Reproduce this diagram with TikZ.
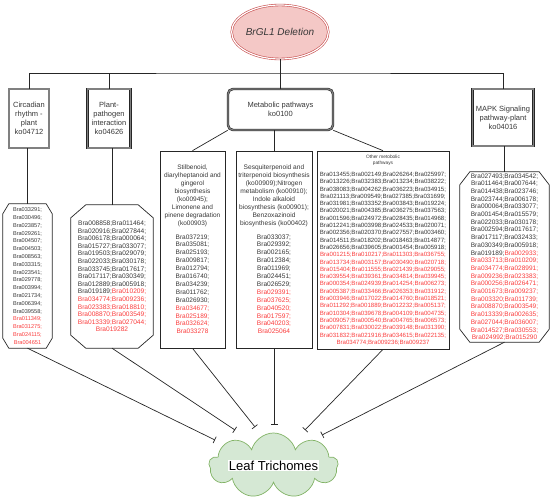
\documentclass[tikz,border=0pt]{standalone}
\usepackage{fontspec}
\setmainfont{Liberation Sans}
\usepackage{xcolor}
\usepackage{tikz}
\usetikzlibrary{calc, arrows.meta, shapes.geometric, shapes.symbols}

\definecolor{genered}{RGB}{250,60,60}
\definecolor{genegray}{RGB}{55,55,55}
\definecolor{delfill}{RGB}{244,200,198}
\definecolor{deldraw}{RGB}{200,80,80}
\definecolor{leaffill}{RGB}{213,232,212}
\definecolor{leafdraw}{RGB}{130,179,102}

\newcommand{\rd}[1]{\textcolor{genered}{#1}}
\newcommand{\fs}[2]{\fontsize{#1}{#2}\selectfont}
\setlength{\fboxsep}{0.8pt}

%% octagon round a node: name, corner width, corner height
\newcommand{\chamfer}[3]{%
  \draw [link] ($(#1.north west)+(#2,0)$) -- ($(#1.north east)+(-#2,0)$) -- ($(#1.north east)+(0,#3)$) -- ($(#1.south east)+(0,-#3)$) -- ($(#1.south east)+(-#2,0)$) -- ($(#1.south west)+(#2,0)$) -- ($(#1.south west)+(0,-#3)$) -- ($(#1.north west)+(0,#3)$) -- cycle;}

\tikzset{
  delnode/.style={ellipse, draw=deldraw, line width=0.6pt, double=white, double distance=1.2pt, fill=delfill, inner sep=0pt, text=genegray, font=\fs{10}{12}\itshape},
  pathbox/.style={rectangle, draw=black!85, line width=0.6pt, double=black!50, double distance=1.2pt, inner sep=0pt, align=center, text=genegray, font=\fs{7.5}{9}},
  genelist/.style={rectangle, inner sep=0pt, align=center, text=genegray},
  subbox/.style={rectangle, draw=black!85, line width=0.7pt, inner sep=0pt, align=center, text=genegray},
  link/.style={draw=black!85, line width=0.7pt},
  inhibit/.style={link, -{Bar[width=7pt]}}
}

\begin{document}
\begin{tikzpicture}[x=1pt, y=-1pt]

        \useasboundingbox (0,0) rectangle (550,503);

        %% Deletion
        \node (brgl) [delnode, minimum width=84, minimum height=54] at (280,32) {BrGL1 Deletion};

        %% Pathways
        \node (circ) [pathbox, minimum width=40, minimum height=59] at (29,118.5) {Circadian\\rhythm -\\plant\\ko04712};
        \node (plant) [pathbox, minimum width=43, minimum height=59] at (109,118.5) {Plant-\\pathogen\\interaction\\ko04626};
        \node (metab) [pathbox, rounded corners=5pt, minimum width=105, minimum height=41] at (280.5,109.5) {Metabolic pathways\\ko0100};
        \node (mapk) [pathbox, minimum width=61, minimum height=57] at (503,117.5) {MAPK Signaling\\pathway-plant\\ko04016};

        %% Gene lists
        \node (circlist) [genelist, minimum width=49, minimum height=144, font=\fs{5.6}{7.8}] at (27.5,276) {Bra033291;\\Bra030496;\\Bra023857;\\Bra029261;\\Bra004507;\\Bra004503;\\Bra008563;\\Bra033315;\\Bra023541;\\Bra029778;\\Bra003994;\\Bra021734;\\Bra006394;\\Bra039558;\\\rd{Bra011349;}\\\rd{Bra031275;}\\\rd{Bra024115;}\\\rd{Bra004651}};
        \chamfer{circlist}{6}{10}

        \node (plantlist) [genelist, minimum width=82, minimum height=143, font=\fs{6.6}{7.6}] at (112,276.5) {Bra008858;Bra011464;\\Bra020916;Bra027844;\\Bra006178;Bra000064;\\Bra015727;Bra033077;\\Bra019503;Bra029079;\\Bra022033;Bra030178;\\Bra033745;Bra017617;\\Bra017117;Bra030349;\\Bra012889;Bra005918;\\Bra019189;\rd{Bra010209;}\\\rd{Bra034774;Bra009236;}\\\rd{Bra023383;Bra018810;}\\\rd{Bra008870;Bra003549;}\\\rd{Bra013339;Bra027044;}\\\rd{Bra019282}};
        \chamfer{plantlist}{15}{13}

        \node (stilb) [subbox, minimum width=65, minimum height=197, font=\fs{6.5}{7.9}] at (192.5,249.5) {Stilbenoid,\\diarylheptanoid and\\gingerol\\biosynthesis\\(ko00945);\\Limonene and\\pinene degradation\\(ko00903)\\[6pt]Bra037219;\\Bra035081;\\Bra025193;\\Bra009817;\\Bra012794;\\Bra016740;\\Bra034239;\\Bra011762;\\Bra026930;\\\rd{Bra034677;}\\\rd{Bra025189;}\\\rd{Bra032624;}\\\rd{Bra033278}};

        \node (sesq) [subbox, minimum width=76, minimum height=197, font=\fs{6.6}{7.9}] at (274,249.5) {Sesquiterpenoid and\\triterpenoid biosynthesis\\(ko00909);Nitrogen\\metabolism (ko00910);\\Indole alkaloid\\biosynthesis (ko00901);\\Benzoxazinoid\\biosynthesis (ko00402)\\[6pt]Bra033037;\\Bra029392;\\Bra002165;\\Bra012384;\\Bra011969;\\Bra024451;\\Bra026529;\\\rd{Bra029391;}\\\rd{Bra037625;}\\\rd{Bra040520;}\\\rd{Bra017597;}\\\rd{Bra040203;}\\\rd{Bra025064}};

        \node (other) [subbox, minimum width=132, minimum height=198, font=\fs{6.1}{7.3}] at (383,250) {{\fs{4.8}{6}Other metobolic}\\[-1pt]{\fs{4.8}{6}pathways}\\[4.5pt]Bra013455;Bra002149;Bra026264;Bra025997;\\Bra013226;Bra032383;Bra013234;Bra038222;\\Bra038083;Bra004262;Bra036223;Bra034915;\\Bra021113;Bra009549;Bra027385;Bra031699;\\Bra031981;Bra033352;Bra003843;Bra019224;\\Bra020021;Bra004385;Bra036275;Bra037563;\\Bra001596;Bra024972;Bra028435;Bra014968;\\Bra012241;Bra003998;Bra024533;Bra020071;\\Bra002356;Bra020370;Bra027557;Bra003460;\\Bra014511;Bra018202;Bra018463;Bra014877;\\Bra026656;Bra039605;Bra001454;Bra005918;\\\rd{Bra001215;Bra010217;Bra011303;Bra036755;}\\\rd{Bra013734;Bra003157;Bra030490;Bra020718;}\\\rd{Bra015404;Bra011555;Bra021439;Bra029055;}\\\rd{Bra039554;Bra039361;Bra034814;Bra039945;}\\\rd{Bra000354;Bra024939;Bra014254;Bra006273;}\\\rd{Bra005387;Bra033466;Bra026353;Bra031912;}\\\rd{Bra003946;Bra017022;Bra014760;Bra018521;}\\\rd{Bra011292;Bra001889;Bra012232;Bra005137;}\\\rd{Bra010304;Bra039678;Bra004109;Bra004735;}\\\rd{Bra009057;Bra000540;Bra004765;Bra006573;}\\\rd{Bra007831;Bra030022;Bra039148;Bra031390;}\\\rd{Bra031832;Bra021916;Bra034615;Bra022135;}\\\rd{Bra034774;Bra009236;Bra009237}};

        \node (mapklist) [genelist, minimum width=89, minimum height=170, font=\fs{6.5}{7.7}] at (504.5,257) {Bra027493;Bra034542;\\Bra011464;Bra007644;\\Bra014438;Bra023746;\\Bra023744;Bra006178;\\Bra000064;Bra033077;\\Bra001454;Bra015579;\\Bra022033;Bra030178;\\Bra002594;Bra017617;\\Bra017117;Bra032433;\\Bra030349;Bra005918;\\Bra019189;\rd{Bra002933;}\\\rd{Bra033713;Bra010209;}\\\rd{Bra034774;Bra028991;}\\\rd{Bra009236;Bra023383;}\\\rd{Bra000256;Bra026471;}\\\rd{Bra001673;Bra009237;}\\\rd{Bra003320;Bra011739;}\\\rd{Bra008870;Bra003549;}\\\rd{Bra013339;Bra002635;}\\\rd{Bra027044;Bra036007;}\\\rd{Bra014527;Bra030553;}\\\rd{Bra024992;Bra015290}};
        \chamfer{mapklist}{10}{13}

        %% Trichomes
        \node (leaf) [cloud, cloud puffs=9, aspect=2, draw=leafdraw, fill=leaffill, line width=0.7pt, minimum width=129, minimum height=65, inner xsep=-25pt, inner ysep=-9pt, font=\fs{13}{15}] at (273.5,465.5) {\colorbox{white}{Leaf Trichomes}};

        %% Tree
        \coordinate (bus) at (280,73);
        \draw [link] (brgl.south) -- (bus);
        \draw [link] (circ.north) |- (bus) -| (mapk.north);
        \draw [link] (plant.north) -- (plant.north |- bus);
        \draw [link] (metab.north) -- (metab.north |- bus);

        \draw [link] (circlist.north |- circ.south) -- (circlist.north);
        \draw [link] (plantlist.north |- plant.south) -- (plantlist.north);
        \draw [link] (mapklist.north |- mapk.south) -- (mapklist.north);

        \draw [link] (metab.south west) -- (stilb.north);
        \draw [link] (sesq.north |- metab.south) -- (sesq.north);
        \draw [link] (metab.south east) -- (other.north);

        %% Inhibition
        \coordinate (endcirc) at (215,440);
        \coordinate (endplant) at (235,430);
        \coordinate (endstilb) at (255,427);
        \coordinate (endsesq) at (274,425);
        \coordinate (endother) at (305,430);
        \coordinate (endmapk) at (322,435);

        \draw [inhibit] (circlist.south) -- (endcirc);
        \draw [inhibit] (plantlist.south) -- (endplant);
        \draw [inhibit] (stilb.south) -- (endstilb);
        \draw [inhibit] (sesq.south) -- (endsesq);
        \draw [inhibit] (other.south) -- (endother);
        \draw [inhibit] (mapklist.south) -- (endmapk);

    \end{tikzpicture}
\end{document}
